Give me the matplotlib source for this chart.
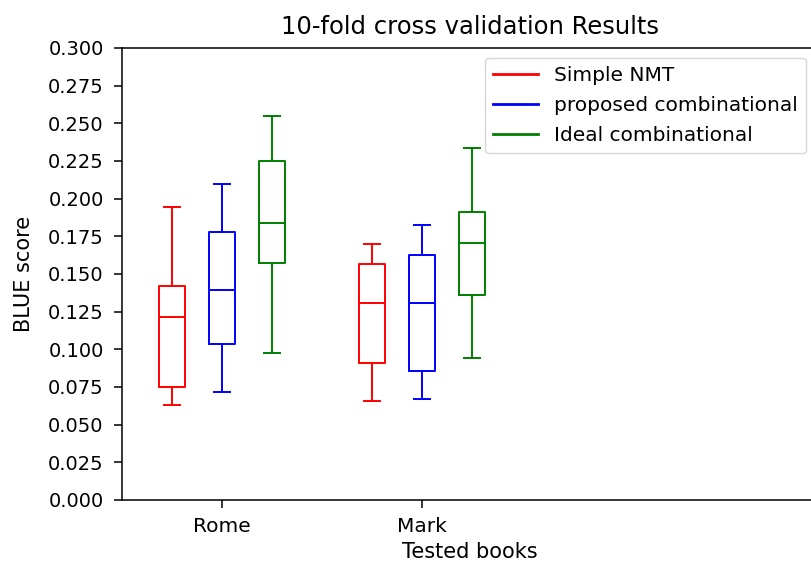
import matplotlib
matplotlib.use("Agg")
import matplotlib.pyplot as plt
from matplotlib.ticker import MultipleLocator, FormatStrFormatter

books = ["Rome", "Mark"]
series = ["Simple NMT", "proposed combinational", "Ideal combinational"]
colors = ["red", "blue", "green"]

# per series, per book: (whislo, q1, median, q3, whishi)
simple_nmt = [(0.063, 0.0752, 0.1215, 0.1422, 0.1943),
              (0.0659, 0.0911, 0.1305, 0.1564, 0.1700)]
proposed = [(0.0717, 0.1033, 0.1394, 0.1777, 0.2100),
            (0.0668, 0.0856, 0.1305, 0.1628, 0.1823)]
ideal = [(0.0978, 0.1575, 0.1840, 0.2252, 0.2546),
         (0.0942, 0.1361, 0.1704, 0.1914, 0.2338)]
all_series = [simple_nmt, proposed, ideal]

plt.rcParams['font.family'] = ['DejaVu Sans']
plt.rcParams['font.size'] = 14.5

fig = plt.figure(figsize=(8.12, 5.64), dpi=100)
ax = fig.add_axes([0.150, 0.1135, 0.862, 0.8015])

group_pos = [0, 2]
offsets = [-0.5, 0.0, 0.5]
for s, (data, col, off) in enumerate(zip(all_series, colors, offsets)):
    stats = []
    for vals in data:
        lo, q1, med, q3, hi = vals
        stats.append(dict(whislo=lo, q1=q1, med=med, q3=q3, whishi=hi, fliers=[]))
    pos = [g + off for g in group_pos]
    lw = 1.4
    ax.bxp(stats, positions=pos, widths=0.26, capwidths=0.16, showfliers=False,
           boxprops=dict(color=col, linewidth=lw),
           whiskerprops=dict(color=col, linewidth=lw),
           capprops=dict(color=col, linewidth=lw),
           medianprops=dict(color=col, linewidth=lw),
           manage_ticks=False)
    ax.plot([], c=col, label=series[s], linewidth=2)

ax.set_xticks(group_pos)
ax.set_xticklabels(books)
ax.set_xlim(-1, 6)
ax.set_ylim(0, 0.3)
ax.yaxis.set_major_locator(MultipleLocator(0.025))
ax.yaxis.set_major_formatter(FormatStrFormatter('%.3f'))
ax.tick_params(axis='y', length=6, width=1.1, pad=7, labelsize=14)
ax.tick_params(axis='x', length=6, width=1.1, pad=6, labelsize=14.5)
for sp in ax.spines.values():
    sp.set_linewidth(1.1)

ax.set_title("10-fold cross validation Results", fontsize=17.5, x=(470 - 122) / 700, pad=10)
ax.set_xlabel("Tested books", fontsize=15)
ax.set_ylabel("BLUE score", fontsize=15)
ax.xaxis.set_label_coords((470 - 122) / 700, -0.093)
ax.yaxis.set_label_coords(-0.125, 0.5)
ax.legend(loc="upper right", bbox_to_anchor=((808 - 122 + 8) / 700, 1.0), fontsize=14.5,
          labelspacing=0.55, handlelength=2.2, handletextpad=0.8)

fig.savefig("out.png", dpi=100)
